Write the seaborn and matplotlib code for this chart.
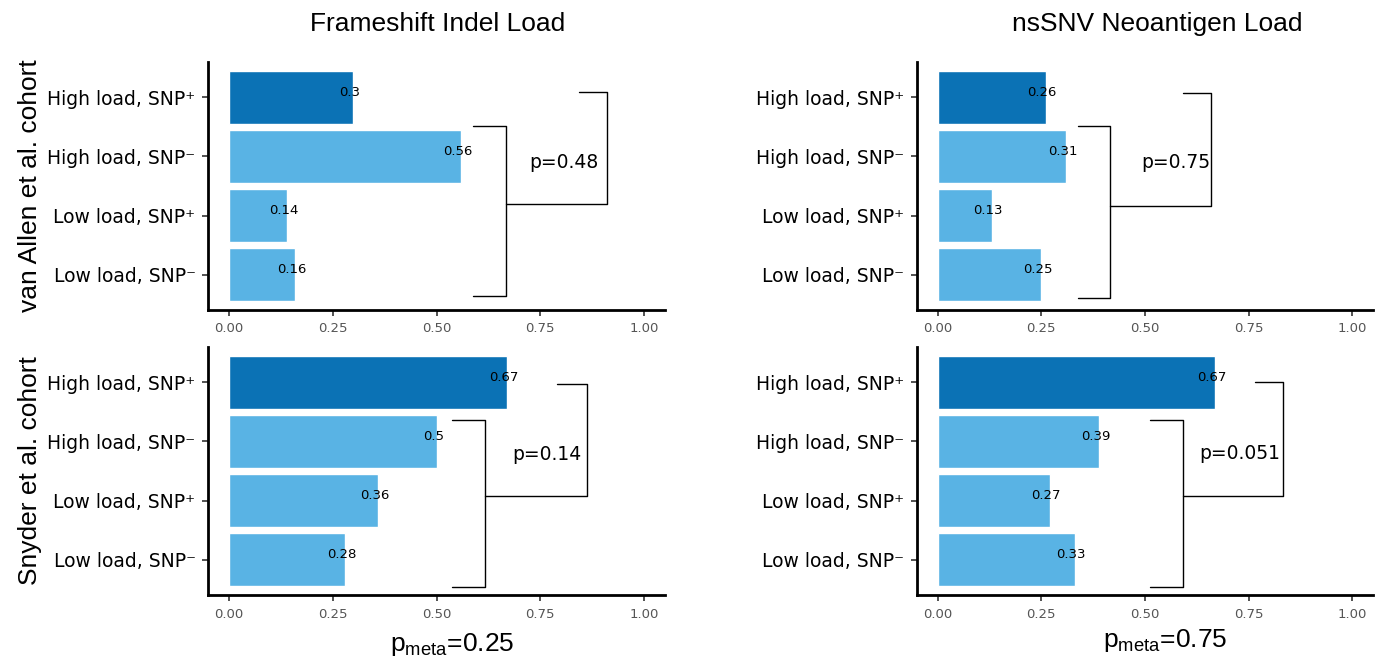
import matplotlib
matplotlib.use("Agg")
import matplotlib.pyplot as plt
import seaborn as sns
import pandas as pd

groups = ["High load, SNP\u207a", "High load, SNP\u207b", "Low load, SNP\u207a", "Low load, SNP\u207b"]
frameshift_vanallen = [0.30, 0.56, 0.14, 0.16]
nssnv_vanallen = [0.26, 0.31, 0.13, 0.25]
frameshift_snyder = [0.67, 0.50, 0.36, 0.28]
nssnv_snyder = [0.67, 0.39, 0.27, 0.33]
value_labels = {
    "fa": ["0.3", "0.56", "0.14", "0.16"],
    "na": ["0.26", "0.31", "0.13", "0.25"],
    "fs": ["0.67", "0.5", "0.36", "0.28"],
    "ns": ["0.67", "0.39", "0.27", "0.33"],
}
p_values = ["p=0.48", "p=0.75", "p=0.14", "p=0.051"]
p_meta = ["0.25", "0.75"]
col_titles = ["Frameshift Indel Load", "nsSNV Neoantigen Load"]
row_titles = ["van Allen et al. cohort", "Snyder et al. cohort"]

dark_blue = "#0b72b5"
light_blue = "#59b3e4"
palette = {groups[0]: dark_blue, groups[1]: light_blue, groups[2]: light_blue, groups[3]: light_blue}

sns.set_style("white")
plt.rcParams["font.family"] = ["Liberation Sans", "DejaVu Sans"]
tick_font = ["DejaVu Sans"]

fig = plt.figure(figsize=(13.82, 6.68), dpi=100)

W, H = 1382, 668
def ax_rect(x0, x1, ytop, ybot):
    return [x0 / W, 1 - ybot / H, (x1 - x0) / W, (ybot - ytop) / H]

rects = [ax_rect(208, 665, 62, 310), ax_rect(917, 1373, 62, 310),
         ax_rect(208, 665, 347, 595), ax_rect(917, 1373, 347, 595)]
series = [frameshift_vanallen, nssnv_vanallen, frameshift_snyder, nssnv_snyder]
keys = ["fa", "na", "fs", "ns"]

# bracket geometry per panel: inner x0, inner x1, inner top, inner bottom, mid y,
# outer x, outer top-start x, outer top y, p text x, p text y
brackets = [
    (0.588, 0.667, 0.49, 3.37, 1.81, 0.911, 0.843, -0.09, 0.807, 1.10),
    (0.338, 0.415, 0.49, 3.39, 1.84, 0.659, 0.592, -0.07, 0.575, 1.10),
    (0.537, 0.617, 0.63, 3.47, 1.92, 0.863, 0.790, 0.03, 0.766, 1.22),
    (0.512, 0.592, 0.63, 3.46, 1.93, 0.833, 0.766, 0.00, 0.729, 1.21),
]

for i, (rect, vals, key, br, pv) in enumerate(zip(rects, series, keys, brackets, p_values)):
    ax = fig.add_axes(rect)
    df = pd.DataFrame({"group": groups, "value": vals})
    sns.barplot(data=df, x="value", y="group", hue="group", palette=palette,
                order=groups, hue_order=groups, orient="h", width=0.9,
                saturation=1, legend=False, ax=ax)
    for j, (v, lab) in enumerate(zip(vals, value_labels[key])):
        ax.text(v - 0.008, j - 0.08, lab, ha="center", va="center", fontsize=9.5,
                family=tick_font, color="black")
    ax.set_xlim(-0.05, 1.05)
    ax.set_ylim(3.6, -0.6)
    ax.set_xticks([0, 0.25, 0.5, 0.75, 1.0])
    ax.set_xticklabels(["0.00", "0.25", "0.50", "0.75", "1.00"], family=tick_font,
                       fontsize=9.5, color="#555555")
    ax.set_yticklabels(groups, fontsize=13.5, family=tick_font, color="black")
    ax.set_xlabel("")
    ax.set_ylabel("")
    for s in ["top", "right"]:
        ax.spines[s].set_visible(False)
    for s in ["left", "bottom"]:
        ax.spines[s].set_linewidth(2)
        ax.spines[s].set_color("black")
    ax.tick_params(axis="both", which="both", length=4, width=1.2, color="#333333",
                   left=True, bottom=True, pad=5)
    ix0, ix1, itop, ibot, ymid, ox, otx, oty, ptx, pty = br
    lk = dict(color="black", lw=1, clip_on=False)
    ax.plot([ix0, ix1, ix1, ix0], [itop, itop, ibot, ibot], **lk)
    ax.plot([ix1, ox, ox, otx], [ymid, ymid, oty, oty], **lk)
    ax.text(ptx, pty, pv, ha="center", va="center", fontsize=13.5, family=tick_font,
            color="black")

tk = dict(ha="center", va="center", color="black")
fig.text(438 / W, 1 - 24 / H, col_titles[0], fontsize=19, **tk)
fig.text(1157 / W, 1 - 24 / H, col_titles[1], fontsize=19, **tk)
fig.text(30 / W, 1 - 186 / H, row_titles[0], rotation=90, fontsize=19, **tk)
fig.text(30 / W, 1 - 471 / H, row_titles[1], rotation=90, fontsize=19, **tk)
fig.text(452 / W, 1 - 645 / H, r"$\mathregular{p_{meta}}$=" + p_meta[0], fontsize=19, **tk)
fig.text(1165 / W, 1 - 640 / H, r"$\mathregular{p_{meta}}$=" + p_meta[1], fontsize=19, **tk)

fig.savefig("out.png", dpi=100)
